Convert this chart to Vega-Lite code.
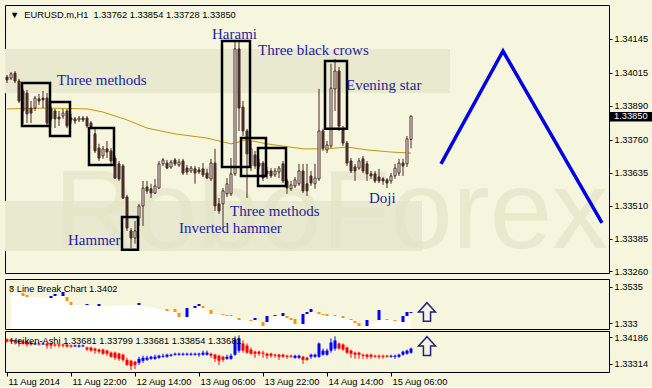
{
"$schema": "https://vega.github.io/schema/vega-lite/v6.json",
"background": "#F6F6DE",
"padding": {"left": 4, "top": 4, "right": 0, "bottom": 0},
"spacing": 0,
"config": {
 "view": {"stroke": "#000000", "strokeWidth": 1, "fill": "#F6F6DE"},
 "axis": {"labelFont": "Liberation Sans", "labelFontSize": 9.3, "labelColor": "#000000", "tickColor": "#000000", "tickSize": 3, "domain": false, "grid": false, "labelPadding": 2, "labelOverlap": false, "labelFlush": false}
},
"datasets": {
 "bands": [
  {"t1": "2014-08-11T05:30", "t2": "2014-08-15T20:45", "p1": 1.34106, "p2": 1.33938},
  {"t1": "2014-08-11T05:30", "t2": "2014-08-15T13:45", "p1": 1.33528, "p2": 1.33338}
 ],
 "mark": [{"t": "2014-08-11T17:45", "p": 1.33258, "label": "RoboForex"}],
 "heads": [
  {"panel": "main", "t": "2014-08-11T06:45", "v": 1.34225, "label": "▼\u00a0\u00a0EURUSD.m,H1\u00a0\u00a01.33762 1.33854 1.33728 1.33850"},
  {"panel": "lb", "t": "2014-08-11T06:30", "v": 1.35066, "label": "3 Line Break Chart 1.3402"},
  {"panel": "ha", "t": "2014-08-11T06:52", "v": 1.33985, "label": "Heiken-Ashi 1.33681 1.33799 1.33681 1.33854 1.33681"}
 ],
 "ma": [
  {"t": "2014-08-11T06:00", "v": 1.33878}, {"t": "2014-08-11T16:00", "v": 1.33881}, {"t": "2014-08-12T02:00", "v": 1.33878},
  {"t": "2014-08-12T06:00", "v": 1.33866}, {"t": "2014-08-12T12:00", "v": 1.33836}, {"t": "2014-08-12T17:00", "v": 1.33805},
  {"t": "2014-08-13T00:00", "v": 1.33783}, {"t": "2014-08-13T08:00", "v": 1.33767}, {"t": "2014-08-13T14:00", "v": 1.33745},
  {"t": "2014-08-13T18:00", "v": 1.3376}, {"t": "2014-08-13T23:00", "v": 1.33745}, {"t": "2014-08-14T08:00", "v": 1.33726},
  {"t": "2014-08-14T14:00", "v": 1.33726}, {"t": "2014-08-14T19:00", "v": 1.33733}, {"t": "2014-08-15T00:00", "v": 1.33722},
  {"t": "2014-08-15T06:00", "v": 1.33714}, {"t": "2014-08-15T11:00", "v": 1.3371}
 ],
 "candles": [
  {"t":"2014-08-11T06:00","o":1.33999,"h":1.34007,"l":1.33976,"c":1.33988},
  {"t":"2014-08-11T07:00","o":1.33995,"h":1.34018,"l":1.33988,"c":1.34011},
  {"t":"2014-08-11T08:00","o":1.34014,"h":1.34022,"l":1.33976,"c":1.33984},
  {"t":"2014-08-11T09:00","o":1.33984,"h":1.33992,"l":1.339,"c":1.33908},
  {"t":"2014-08-11T10:00","o":1.33946,"h":1.33954,"l":1.33821,"c":1.3387},
  {"t":"2014-08-11T11:00","o":1.33938,"h":1.3395,"l":1.33824,"c":1.33859},
  {"t":"2014-08-11T12:00","o":1.33881,"h":1.33908,"l":1.33824,"c":1.33862},
  {"t":"2014-08-11T13:00","o":1.33881,"h":1.33927,"l":1.3387,"c":1.33919},
  {"t":"2014-08-11T14:00","o":1.33916,"h":1.33935,"l":1.33893,"c":1.33908},
  {"t":"2014-08-11T15:00","o":1.33919,"h":1.33946,"l":1.33881,"c":1.33912},
  {"t":"2014-08-11T16:00","o":1.33919,"h":1.33938,"l":1.33813,"c":1.33824},
  {"t":"2014-08-11T17:00","o":1.33878,"h":1.33885,"l":1.33832,"c":1.3384},
  {"t":"2014-08-11T18:00","o":1.3387,"h":1.33878,"l":1.33805,"c":1.3384},
  {"t":"2014-08-11T19:00","o":1.33847,"h":1.3387,"l":1.33813,"c":1.3384},
  {"t":"2014-08-11T20:00","o":1.33851,"h":1.33878,"l":1.3384,"c":1.33862},
  {"t":"2014-08-11T21:00","o":1.3387,"h":1.33878,"l":1.33805,"c":1.33813},
  {"t":"2014-08-11T22:00","o":1.33843,"h":1.33859,"l":1.33821,"c":1.33836},
  {"t":"2014-08-11T23:00","o":1.3384,"h":1.33847,"l":1.33821,"c":1.33832},
  {"t":"2014-08-12T00:00","o":1.33836,"h":1.33851,"l":1.33828,"c":1.33843},
  {"t":"2014-08-12T01:00","o":1.33843,"h":1.33851,"l":1.33828,"c":1.33836},
  {"t":"2014-08-12T02:00","o":1.33843,"h":1.33851,"l":1.33805,"c":1.33813},
  {"t":"2014-08-12T03:00","o":1.33824,"h":1.33832,"l":1.33802,"c":1.33809},
  {"t":"2014-08-12T04:00","o":1.33783,"h":1.33802,"l":1.3371,"c":1.33718},
  {"t":"2014-08-12T05:00","o":1.33729,"h":1.33745,"l":1.3368,"c":1.33691},
  {"t":"2014-08-12T06:00","o":1.33699,"h":1.33737,"l":1.33688,"c":1.33726},
  {"t":"2014-08-12T07:00","o":1.33726,"h":1.33756,"l":1.33691,"c":1.33714},
  {"t":"2014-08-12T08:00","o":1.33718,"h":1.33729,"l":1.33669,"c":1.3368},
  {"t":"2014-08-12T09:00","o":1.33691,"h":1.33699,"l":1.33612,"c":1.33615},
  {"t":"2014-08-12T10:00","o":1.33669,"h":1.3368,"l":1.33604,"c":1.33612},
  {"t":"2014-08-12T11:00","o":1.33661,"h":1.33669,"l":1.33536,"c":1.33539},
  {"t":"2014-08-12T12:00","o":1.33543,"h":1.33551,"l":1.33414,"c":1.33425},
  {"t":"2014-08-12T13:00","o":1.33414,"h":1.33425,"l":1.33349,"c":1.33387},
  {"t":"2014-08-12T14:00","o":1.33387,"h":1.33452,"l":1.33365,"c":1.33414},
  {"t":"2014-08-12T15:00","o":1.33463,"h":1.33517,"l":1.33433,"c":1.33509},
  {"t":"2014-08-12T16:00","o":1.33509,"h":1.33604,"l":1.33433,"c":1.33577},
  {"t":"2014-08-12T17:00","o":1.33581,"h":1.33604,"l":1.33555,"c":1.33566},
  {"t":"2014-08-12T18:00","o":1.33574,"h":1.33593,"l":1.33539,"c":1.33558},
  {"t":"2014-08-12T19:00","o":1.33558,"h":1.33612,"l":1.33555,"c":1.33585},
  {"t":"2014-08-12T20:00","o":1.33577,"h":1.3368,"l":1.33574,"c":1.33669},
  {"t":"2014-08-12T21:00","o":1.33669,"h":1.33691,"l":1.33661,"c":1.33684},
  {"t":"2014-08-12T22:00","o":1.33672,"h":1.33684,"l":1.3365,"c":1.33653},
  {"t":"2014-08-12T23:00","o":1.33657,"h":1.33684,"l":1.3365,"c":1.33676},
  {"t":"2014-08-13T00:00","o":1.33684,"h":1.33691,"l":1.33661,"c":1.33669},
  {"t":"2014-08-13T01:00","o":1.33665,"h":1.33688,"l":1.33657,"c":1.33676},
  {"t":"2014-08-13T02:00","o":1.3368,"h":1.33688,"l":1.33627,"c":1.33634},
  {"t":"2014-08-13T03:00","o":1.33653,"h":1.33665,"l":1.33627,"c":1.33638},
  {"t":"2014-08-13T04:00","o":1.33642,"h":1.33661,"l":1.33634,"c":1.33653},
  {"t":"2014-08-13T05:00","o":1.3365,"h":1.33661,"l":1.33593,"c":1.33634},
  {"t":"2014-08-13T06:00","o":1.33646,"h":1.33657,"l":1.33631,"c":1.33638},
  {"t":"2014-08-13T07:00","o":1.3365,"h":1.33672,"l":1.33619,"c":1.33627},
  {"t":"2014-08-13T08:00","o":1.33634,"h":1.3365,"l":1.33612,"c":1.33615},
  {"t":"2014-08-13T09:00","o":1.33612,"h":1.33688,"l":1.33604,"c":1.33672},
  {"t":"2014-08-13T10:00","o":1.33672,"h":1.33726,"l":1.3349,"c":1.33509},
  {"t":"2014-08-13T11:00","o":1.33517,"h":1.33539,"l":1.33479,"c":1.3349},
  {"t":"2014-08-13T12:00","o":1.33517,"h":1.33577,"l":1.33425,"c":1.33566},
  {"t":"2014-08-13T13:00","o":1.33555,"h":1.33615,"l":1.33543,"c":1.33593},
  {"t":"2014-08-13T14:00","o":1.33555,"h":1.33691,"l":1.33547,"c":1.33631},
  {"t":"2014-08-13T15:00","o":1.33631,"h":1.34136,"l":1.33623,"c":1.34106},
  {"t":"2014-08-13T16:00","o":1.34106,"h":1.34136,"l":1.33794,"c":1.33881},
  {"t":"2014-08-13T17:00","o":1.33885,"h":1.33908,"l":1.33775,"c":1.33794},
  {"t":"2014-08-13T18:00","o":1.33794,"h":1.33802,"l":1.33539,"c":1.33707},
  {"t":"2014-08-13T19:00","o":1.33661,"h":1.33756,"l":1.33642,"c":1.33726},
  {"t":"2014-08-13T20:00","o":1.33703,"h":1.33718,"l":1.3365,"c":1.33661},
  {"t":"2014-08-13T21:00","o":1.33672,"h":1.33688,"l":1.3365,"c":1.33661},
  {"t":"2014-08-13T22:00","o":1.33672,"h":1.3368,"l":1.33604,"c":1.33615},
  {"t":"2014-08-13T23:00","o":1.33642,"h":1.33657,"l":1.33612,"c":1.33631},
  {"t":"2014-08-14T00:00","o":1.33642,"h":1.33653,"l":1.33615,"c":1.33623},
  {"t":"2014-08-14T01:00","o":1.33627,"h":1.33653,"l":1.33619,"c":1.33642},
  {"t":"2014-08-14T02:00","o":1.33638,"h":1.33661,"l":1.33615,"c":1.33653},
  {"t":"2014-08-14T03:00","o":1.33669,"h":1.3368,"l":1.33596,"c":1.33604},
  {"t":"2014-08-14T04:00","o":1.33604,"h":1.33612,"l":1.33555,"c":1.33577},
  {"t":"2014-08-14T05:00","o":1.33574,"h":1.33604,"l":1.33566,"c":1.33589},
  {"t":"2014-08-14T06:00","o":1.33585,"h":1.33619,"l":1.33577,"c":1.33608},
  {"t":"2014-08-14T07:00","o":1.33593,"h":1.33669,"l":1.33585,"c":1.33642},
  {"t":"2014-08-14T08:00","o":1.33642,"h":1.33669,"l":1.33558,"c":1.33566},
  {"t":"2014-08-14T09:00","o":1.33593,"h":1.33669,"l":1.33547,"c":1.33566},
  {"t":"2014-08-14T10:00","o":1.33623,"h":1.33642,"l":1.33585,"c":1.33596},
  {"t":"2014-08-14T11:00","o":1.33593,"h":1.33669,"l":1.33574,"c":1.33615},
  {"t":"2014-08-14T12:00","o":1.33612,"h":1.33954,"l":1.33604,"c":1.33794},
  {"t":"2014-08-14T13:00","o":1.33794,"h":1.33802,"l":1.33718,"c":1.33729},
  {"t":"2014-08-14T14:00","o":1.33722,"h":1.33756,"l":1.3371,"c":1.33741},
  {"t":"2014-08-14T15:00","o":1.33737,"h":1.34049,"l":1.33729,"c":1.33957},
  {"t":"2014-08-14T16:00","o":1.33954,"h":1.34068,"l":1.3387,"c":1.34022},
  {"t":"2014-08-14T17:00","o":1.34022,"h":1.34037,"l":1.33794,"c":1.33813},
  {"t":"2014-08-14T18:00","o":1.33802,"h":1.33813,"l":1.33737,"c":1.33748},
  {"t":"2014-08-14T19:00","o":1.33748,"h":1.33756,"l":1.33661,"c":1.33672},
  {"t":"2014-08-14T20:00","o":1.3368,"h":1.33691,"l":1.33634,"c":1.33642},
  {"t":"2014-08-14T21:00","o":1.33657,"h":1.33669,"l":1.33604,"c":1.33642},
  {"t":"2014-08-14T22:00","o":1.33653,"h":1.33691,"l":1.33646,"c":1.3368},
  {"t":"2014-08-14T23:00","o":1.33688,"h":1.33699,"l":1.33634,"c":1.33642},
  {"t":"2014-08-15T00:00","o":1.33669,"h":1.3368,"l":1.33604,"c":1.33631},
  {"t":"2014-08-15T01:00","o":1.33631,"h":1.33642,"l":1.33612,"c":1.33623},
  {"t":"2014-08-15T02:00","o":1.33631,"h":1.33642,"l":1.33596,"c":1.33604},
  {"t":"2014-08-15T03:00","o":1.33619,"h":1.3365,"l":1.33596,"c":1.33604},
  {"t":"2014-08-15T04:00","o":1.33612,"h":1.33619,"l":1.33589,"c":1.33604},
  {"t":"2014-08-15T05:00","o":1.33608,"h":1.33615,"l":1.33577,"c":1.33596},
  {"t":"2014-08-15T06:00","o":1.33604,"h":1.33634,"l":1.33593,"c":1.33623},
  {"t":"2014-08-15T07:00","o":1.33623,"h":1.33669,"l":1.33612,"c":1.33653},
  {"t":"2014-08-15T08:00","o":1.33634,"h":1.33688,"l":1.33623,"c":1.33672},
  {"t":"2014-08-15T09:00","o":1.33672,"h":1.33688,"l":1.33623,"c":1.33661},
  {"t":"2014-08-15T10:00","o":1.33669,"h":1.33775,"l":1.33657,"c":1.33764},
  {"t":"2014-08-15T11:00","o":1.33762,"h":1.33854,"l":1.33728,"c":1.3385}
 ],
 "boxes": [
  {"t1": "2014-08-11T09:45", "t2": "2014-08-11T16:45", "p1": 1.33976, "p2": 1.33813},
  {"t1": "2014-08-11T16:45", "t2": "2014-08-11T21:45", "p1": 1.33904, "p2": 1.33775},
  {"t1": "2014-08-12T02:30", "t2": "2014-08-12T08:45", "p1": 1.33805, "p2": 1.33665},
  {"t1": "2014-08-12T10:45", "t2": "2014-08-12T14:45", "p1": 1.33467, "p2": 1.33342},
  {"t1": "2014-08-13T11:45", "t2": "2014-08-13T18:45", "p1": 1.34136, "p2": 1.33657},
  {"t1": "2014-08-13T16:30", "t2": "2014-08-13T22:45", "p1": 1.33767, "p2": 1.33623},
  {"t1": "2014-08-13T20:45", "t2": "2014-08-14T03:45", "p1": 1.33729, "p2": 1.33585},
  {"t1": "2014-08-14T13:30", "t2": "2014-08-14T19:00", "p1": 1.3406, "p2": 1.33802}
 ],
 "notes": [
  {"t": "2014-08-11T18:30", "p": 1.33988, "label": "Three methods"},
  {"t": "2014-08-13T09:15", "p": 1.34163, "label": "Harami"},
  {"t": "2014-08-13T20:45", "p": 1.34102, "label": "Three black crows"},
  {"t": "2014-08-14T18:45", "p": 1.33969, "label": "Evening star"},
  {"t": "2014-08-11T21:15", "p": 1.3338, "label": "Hammer"},
  {"t": "2014-08-13T01:00", "p": 1.33425, "label": "Inverted hammer"},
  {"t": "2014-08-13T13:45", "p": 1.3349, "label": "Three methods"},
  {"t": "2014-08-15T00:30", "p": 1.33539, "label": "Doji"}
 ],
 "zig": [
  {"t": "2014-08-15T18:30", "p": 1.33669},
  {"t": "2014-08-16T10:00", "p": 1.34098},
  {"t": "2014-08-17T10:45", "p": 1.33445}
 ],
 "tag": [{"t1": "2014-08-17T12:45", "t2": "2014-08-17T23:30", "p1": 1.33866, "p2": 1.3383, "tt": "2014-08-17T13:45", "p": 1.3385, "label": "1.33850"}],
 "lb": [
  {"t":"2014-08-11T07:00","hi":1.35407,"lo":1.35179,"d":"dn"},
  {"t":"2014-08-11T10:00","hi":1.35009,"lo":1.34838,"d":"dn"},
  {"t":"2014-08-11T11:00","hi":1.34895,"lo":1.34781,"d":"dn"},
  {"t":"2014-08-11T17:00","hi":1.34838,"lo":1.34724,"d":"up"},
  {"t":"2014-08-11T18:00","hi":1.34952,"lo":1.34838,"d":"up"},
  {"t":"2014-08-11T20:00","hi":1.35066,"lo":1.34838,"d":"up"},
  {"t":"2014-08-11T21:00","hi":1.34781,"lo":1.34553,"d":"dn"},
  {"t":"2014-08-11T22:00","hi":1.34497,"lo":1.34326,"d":"dn"},
  {"t":"2014-08-12T02:00","hi":1.34383,"lo":1.34326,"d":"up"},
  {"t":"2014-08-12T05:00","hi":1.34383,"lo":1.34269,"d":"up"},
  {"t":"2014-08-12T15:00","hi":1.3444,"lo":1.34326,"d":"up"},
  {"t":"2014-08-12T22:00","hi":1.34098,"lo":1.33984,"d":"dn"},
  {"t":"2014-08-13T00:00","hi":1.34098,"lo":1.33928,"d":"dn"},
  {"t":"2014-08-13T01:00","hi":1.33871,"lo":1.33643,"d":"dn"},
  {"t":"2014-08-13T03:00","hi":1.34155,"lo":1.33643,"d":"up"},
  {"t":"2014-08-13T05:00","hi":1.34269,"lo":1.34155,"d":"up"},
  {"t":"2014-08-13T06:00","hi":1.34383,"lo":1.34269,"d":"up"},
  {"t":"2014-08-13T07:00","hi":1.34269,"lo":1.34155,"d":"dn"},
  {"t":"2014-08-13T09:00","hi":1.34041,"lo":1.33814,"d":"dn"},
  {"t":"2014-08-13T12:00","hi":1.33814,"lo":1.33757,"d":"dn"},
  {"t":"2014-08-13T13:00","hi":1.33757,"lo":1.337,"d":"dn"},
  {"t":"2014-08-13T14:00","hi":1.33757,"lo":1.337,"d":"dn"},
  {"t":"2014-08-13T16:00","hi":1.33586,"lo":1.33472,"d":"dn"},
  {"t":"2014-08-13T19:00","hi":1.33472,"lo":1.33415,"d":"dn"},
  {"t":"2014-08-13T20:00","hi":1.33586,"lo":1.33472,"d":"up"},
  {"t":"2014-08-13T22:00","hi":1.33359,"lo":1.33131,"d":"dn"},
  {"t":"2014-08-13T23:00","hi":1.337,"lo":1.33359,"d":"up"},
  {"t":"2014-08-14T01:00","hi":1.33757,"lo":1.337,"d":"up"},
  {"t":"2014-08-14T03:00","hi":1.33871,"lo":1.337,"d":"up"},
  {"t":"2014-08-14T04:00","hi":1.337,"lo":1.33586,"d":"dn"},
  {"t":"2014-08-14T05:00","hi":1.33586,"lo":1.33472,"d":"dn"},
  {"t":"2014-08-14T06:00","hi":1.33529,"lo":1.33245,"d":"dn"},
  {"t":"2014-08-14T08:00","hi":1.33814,"lo":1.33245,"d":"up"},
  {"t":"2014-08-14T09:00","hi":1.33928,"lo":1.33814,"d":"up"},
  {"t":"2014-08-14T10:00","hi":1.34098,"lo":1.33928,"d":"up"},
  {"t":"2014-08-14T12:00","hi":1.33928,"lo":1.33814,"d":"dn"},
  {"t":"2014-08-14T13:00","hi":1.33814,"lo":1.33757,"d":"dn"},
  {"t":"2014-08-14T14:00","hi":1.33814,"lo":1.337,"d":"dn"},
  {"t":"2014-08-14T16:00","hi":1.33757,"lo":1.337,"d":"dn"},
  {"t":"2014-08-14T18:00","hi":1.337,"lo":1.33586,"d":"dn"},
  {"t":"2014-08-14T20:00","hi":1.33529,"lo":1.33472,"d":"dn"},
  {"t":"2014-08-14T21:00","hi":1.33415,"lo":1.33302,"d":"dn"},
  {"t":"2014-08-14T22:00","hi":1.33302,"lo":1.33131,"d":"dn"},
  {"t":"2014-08-15T00:00","hi":1.33472,"lo":1.33131,"d":"up"},
  {"t":"2014-08-15T03:00","hi":1.34041,"lo":1.33472,"d":"up"},
  {"t":"2014-08-15T05:00","hi":1.33529,"lo":1.33472,"d":"dn"},
  {"t":"2014-08-15T07:00","hi":1.33472,"lo":1.33415,"d":"dn"},
  {"t":"2014-08-15T09:00","hi":1.337,"lo":1.33359,"d":"up"},
  {"t":"2014-08-15T10:00","hi":1.33928,"lo":1.337,"d":"up"},
  {"t":"2014-08-15T11:00","hi":1.33928,"lo":1.33871,"d":"up"}
 ],
 "ha": [
  {"t":"2014-08-11T06:00","o":1.34119,"h":1.34153,"l":1.34018,"c":1.34052},
  {"t":"2014-08-11T07:00","o":1.34119,"h":1.34153,"l":1.34018,"c":1.34052},
  {"t":"2014-08-11T08:00","o":1.34085,"h":1.34119,"l":1.33951,"c":1.34018},
  {"t":"2014-08-11T09:00","o":1.34085,"h":1.34119,"l":1.33884,"c":1.34018},
  {"t":"2014-08-11T10:00","o":1.34052,"h":1.34085,"l":1.33951,"c":1.33985},
  {"t":"2014-08-11T11:00","o":1.34052,"h":1.34085,"l":1.33884,"c":1.33951},
  {"t":"2014-08-11T12:00","o":1.34018,"h":1.34052,"l":1.33918,"c":1.33951},
  {"t":"2014-08-11T13:00","o":1.33951,"h":1.34018,"l":1.33951,"c":1.33985},
  {"t":"2014-08-11T14:00","o":1.33985,"h":1.34018,"l":1.33918,"c":1.33951},
  {"t":"2014-08-11T15:00","o":1.33951,"h":1.34018,"l":1.33951,"c":1.33985},
  {"t":"2014-08-11T16:00","o":1.33985,"h":1.34018,"l":1.33817,"c":1.33918},
  {"t":"2014-08-11T17:00","o":1.33985,"h":1.34018,"l":1.33817,"c":1.33918},
  {"t":"2014-08-11T18:00","o":1.33951,"h":1.33985,"l":1.33884,"c":1.33918},
  {"t":"2014-08-11T19:00","o":1.33951,"h":1.33985,"l":1.33851,"c":1.33918},
  {"t":"2014-08-11T20:00","o":1.33951,"h":1.33985,"l":1.33851,"c":1.33918},
  {"t":"2014-08-11T21:00","o":1.33951,"h":1.33985,"l":1.33851,"c":1.33884},
  {"t":"2014-08-11T22:00","o":1.33918,"h":1.33951,"l":1.33851,"c":1.33884},
  {"t":"2014-08-11T23:00","o":1.33884,"h":1.33951,"l":1.33884,"c":1.33918},
  {"t":"2014-08-12T00:00","o":1.33884,"h":1.33951,"l":1.33851,"c":1.33918},
  {"t":"2014-08-12T01:00","o":1.33884,"h":1.33951,"l":1.33884,"c":1.33918},
  {"t":"2014-08-12T02:00","o":1.33851,"h":1.33884,"l":1.3375,"c":1.33784},
  {"t":"2014-08-12T03:00","o":1.33851,"h":1.33884,"l":1.33716,"c":1.3375},
  {"t":"2014-08-12T04:00","o":1.33817,"h":1.33851,"l":1.33649,"c":1.3375},
  {"t":"2014-08-12T05:00","o":1.33784,"h":1.33817,"l":1.33649,"c":1.33716},
  {"t":"2014-08-12T06:00","o":1.33784,"h":1.33817,"l":1.33616,"c":1.33649},
  {"t":"2014-08-12T07:00","o":1.3375,"h":1.33784,"l":1.33582,"c":1.33649},
  {"t":"2014-08-12T08:00","o":1.33683,"h":1.33716,"l":1.33515,"c":1.33549},
  {"t":"2014-08-12T09:00","o":1.33683,"h":1.33716,"l":1.33448,"c":1.33515},
  {"t":"2014-08-12T10:00","o":1.33649,"h":1.33683,"l":1.33415,"c":1.33482},
  {"t":"2014-08-12T11:00","o":1.33616,"h":1.33649,"l":1.33381,"c":1.33448},
  {"t":"2014-08-12T12:00","o":1.33448,"h":1.33515,"l":1.33247,"c":1.33281},
  {"t":"2014-08-12T13:00","o":1.33415,"h":1.33448,"l":1.33113,"c":1.33247},
  {"t":"2014-08-12T14:00","o":1.33381,"h":1.33415,"l":1.33146,"c":1.33281},
  {"t":"2014-08-12T15:00","o":1.33348,"h":1.33549,"l":1.33281,"c":1.33482},
  {"t":"2014-08-12T16:00","o":1.33415,"h":1.33582,"l":1.33348,"c":1.33515},
  {"t":"2014-08-12T17:00","o":1.33448,"h":1.33582,"l":1.33415,"c":1.33515},
  {"t":"2014-08-12T18:00","o":1.33482,"h":1.33582,"l":1.33448,"c":1.33549},
  {"t":"2014-08-12T19:00","o":1.33482,"h":1.33616,"l":1.33448,"c":1.33549},
  {"t":"2014-08-12T20:00","o":1.33515,"h":1.33616,"l":1.33482,"c":1.33582},
  {"t":"2014-08-12T21:00","o":1.33549,"h":1.33649,"l":1.33515,"c":1.33582},
  {"t":"2014-08-12T22:00","o":1.33549,"h":1.33649,"l":1.33515,"c":1.33616},
  {"t":"2014-08-12T23:00","o":1.33582,"h":1.33649,"l":1.33549,"c":1.33616},
  {"t":"2014-08-13T00:00","o":1.33616,"h":1.33683,"l":1.33582,"c":1.33649},
  {"t":"2014-08-13T01:00","o":1.33616,"h":1.33683,"l":1.33582,"c":1.33649},
  {"t":"2014-08-13T02:00","o":1.33616,"h":1.33683,"l":1.33582,"c":1.33649},
  {"t":"2014-08-13T03:00","o":1.33616,"h":1.33683,"l":1.33582,"c":1.33649},
  {"t":"2014-08-13T04:00","o":1.33616,"h":1.33683,"l":1.33582,"c":1.33649},
  {"t":"2014-08-13T05:00","o":1.33616,"h":1.33683,"l":1.33582,"c":1.33649},
  {"t":"2014-08-13T06:00","o":1.33616,"h":1.33683,"l":1.33549,"c":1.33649},
  {"t":"2014-08-13T07:00","o":1.33616,"h":1.3375,"l":1.33582,"c":1.33683},
  {"t":"2014-08-13T08:00","o":1.33616,"h":1.3375,"l":1.33582,"c":1.33683},
  {"t":"2014-08-13T09:00","o":1.33649,"h":1.33683,"l":1.33515,"c":1.33582},
  {"t":"2014-08-13T10:00","o":1.33616,"h":1.33649,"l":1.33381,"c":1.33482},
  {"t":"2014-08-13T11:00","o":1.33582,"h":1.33616,"l":1.33281,"c":1.33415},
  {"t":"2014-08-13T12:00","o":1.33549,"h":1.33582,"l":1.33381,"c":1.33448},
  {"t":"2014-08-13T13:00","o":1.33482,"h":1.33616,"l":1.33448,"c":1.33549},
  {"t":"2014-08-13T14:00","o":1.33482,"h":1.33649,"l":1.33448,"c":1.33582},
  {"t":"2014-08-13T15:00","o":1.33616,"h":1.3422,"l":1.33582,"c":1.34119},
  {"t":"2014-08-13T16:00","o":1.3375,"h":1.34253,"l":1.33683,"c":1.34153},
  {"t":"2014-08-13T17:00","o":1.33985,"h":1.34085,"l":1.33683,"c":1.3375},
  {"t":"2014-08-13T18:00","o":1.33918,"h":1.33985,"l":1.33649,"c":1.33683},
  {"t":"2014-08-13T19:00","o":1.33784,"h":1.33851,"l":1.33616,"c":1.33649},
  {"t":"2014-08-13T20:00","o":1.33716,"h":1.3375,"l":1.33515,"c":1.33649},
  {"t":"2014-08-13T21:00","o":1.33716,"h":1.3375,"l":1.33582,"c":1.33649},
  {"t":"2014-08-13T22:00","o":1.33683,"h":1.3375,"l":1.33515,"c":1.33649},
  {"t":"2014-08-13T23:00","o":1.33649,"h":1.33683,"l":1.33482,"c":1.33582},
  {"t":"2014-08-14T00:00","o":1.33649,"h":1.33683,"l":1.33515,"c":1.33582},
  {"t":"2014-08-14T01:00","o":1.33616,"h":1.33649,"l":1.33515,"c":1.33582},
  {"t":"2014-08-14T02:00","o":1.33616,"h":1.33649,"l":1.33448,"c":1.33549},
  {"t":"2014-08-14T03:00","o":1.33616,"h":1.33649,"l":1.33515,"c":1.33549},
  {"t":"2014-08-14T04:00","o":1.33582,"h":1.33616,"l":1.33482,"c":1.33549},
  {"t":"2014-08-14T05:00","o":1.33582,"h":1.33616,"l":1.33515,"c":1.33549},
  {"t":"2014-08-14T06:00","o":1.33515,"h":1.33616,"l":1.33482,"c":1.33582},
  {"t":"2014-08-14T07:00","o":1.33515,"h":1.33616,"l":1.33482,"c":1.33582},
  {"t":"2014-08-14T08:00","o":1.33549,"h":1.33582,"l":1.33314,"c":1.33448},
  {"t":"2014-08-14T09:00","o":1.33515,"h":1.33549,"l":1.33415,"c":1.33448},
  {"t":"2014-08-14T10:00","o":1.33549,"h":1.33649,"l":1.33482,"c":1.33616},
  {"t":"2014-08-14T11:00","o":1.33549,"h":1.33649,"l":1.33515,"c":1.33616},
  {"t":"2014-08-14T12:00","o":1.33549,"h":1.34018,"l":1.33515,"c":1.33985},
  {"t":"2014-08-14T13:00","o":1.33616,"h":1.33817,"l":1.33582,"c":1.3375},
  {"t":"2014-08-14T14:00","o":1.33616,"h":1.33817,"l":1.33582,"c":1.3375},
  {"t":"2014-08-14T15:00","o":1.3375,"h":1.34153,"l":1.33683,"c":1.34018},
  {"t":"2014-08-14T16:00","o":1.33817,"h":1.3422,"l":1.3375,"c":1.34085},
  {"t":"2014-08-14T17:00","o":1.33985,"h":1.34018,"l":1.33784,"c":1.33817},
  {"t":"2014-08-14T18:00","o":1.33951,"h":1.33985,"l":1.3375,"c":1.33784},
  {"t":"2014-08-14T19:00","o":1.33851,"h":1.33884,"l":1.33649,"c":1.33683},
  {"t":"2014-08-14T20:00","o":1.3375,"h":1.33784,"l":1.33515,"c":1.33649},
  {"t":"2014-08-14T21:00","o":1.33683,"h":1.33716,"l":1.33482,"c":1.33616},
  {"t":"2014-08-14T22:00","o":1.33683,"h":1.33716,"l":1.33482,"c":1.33616},
  {"t":"2014-08-14T23:00","o":1.33616,"h":1.33649,"l":1.33482,"c":1.33582},
  {"t":"2014-08-15T00:00","o":1.33616,"h":1.33649,"l":1.33482,"c":1.33549},
  {"t":"2014-08-15T01:00","o":1.33616,"h":1.33649,"l":1.33482,"c":1.33549},
  {"t":"2014-08-15T02:00","o":1.33582,"h":1.33616,"l":1.33515,"c":1.33549},
  {"t":"2014-08-15T03:00","o":1.33582,"h":1.33616,"l":1.33482,"c":1.33549},
  {"t":"2014-08-15T04:00","o":1.33582,"h":1.33616,"l":1.33482,"c":1.33549},
  {"t":"2014-08-15T05:00","o":1.33582,"h":1.33616,"l":1.33515,"c":1.33549},
  {"t":"2014-08-15T06:00","o":1.33549,"h":1.33616,"l":1.33515,"c":1.33582},
  {"t":"2014-08-15T07:00","o":1.33549,"h":1.33616,"l":1.33482,"c":1.33582},
  {"t":"2014-08-15T08:00","o":1.33549,"h":1.33649,"l":1.33515,"c":1.33616},
  {"t":"2014-08-15T09:00","o":1.33616,"h":1.3375,"l":1.33582,"c":1.33716},
  {"t":"2014-08-15T10:00","o":1.33649,"h":1.33784,"l":1.33616,"c":1.3375},
  {"t":"2014-08-15T11:00","o":1.33683,"h":1.33851,"l":1.33649,"c":1.33817}
 ],
 "arrowMid": [{"t": "2014-08-15T15:00", "v": 1.33928}],
 "arrowHa": [{"t": "2014-08-15T15:00", "v": 1.33901}]
},
"vconcat": [
 {
  "width": 604, "height": 268,
  "layer": [
   {"data": {"name": "bands"}, "mark": {"type": "rect", "color": "#E9E9CF"},
    "encoding": {
     "x": {"field": "t1", "type": "temporal", "scale": {"domain": [{"year": 2014, "month": 8, "date": 11, "hours": 5, "minutes": 30}, {"year": 2014, "month": 8, "date": 17, "hours": 12, "minutes": 30}], "padding": 0}, "axis": null},
     "x2": {"field": "t2"},
     "y": {"field": "p1", "type": "quantitative", "scale": {"domain": [1.33254, 1.34273], "zero": false, "nice": false, "padding": 0}, "axis": {"orient": "right", "values": [1.34145, 1.34015, 1.3389, 1.3376, 1.33635, 1.3351, 1.33385, 1.3326], "tickCount": 20, "format": ".5f", "title": null, "labelOverlap": false, "labelBound": false}},
     "y2": {"field": "p2"}}},
   {"data": {"name": "mark"}, "mark": {"type": "text", "align": "left", "baseline": "bottom", "font": "Liberation Sans", "fontSize": 112, "color": "#E4E4C8", "opacity": 0.7},
    "encoding": {"x": {"field": "t", "type": "temporal"}, "y": {"field": "p", "type": "quantitative"}, "text": {"field": "label"}}},
   {"mark": {"type": "rule", "color": "#ABABAB", "strokeWidth": 1}, "encoding": {"y": {"datum": 1.3385}}},
   {"data": {"name": "ma"}, "mark": {"type": "line", "color": "#C8960A", "strokeWidth": 1},
    "encoding": {"x": {"field": "t", "type": "temporal"}, "y": {"field": "v", "type": "quantitative"}}},
   {"data": {"name": "candles"}, "mark": {"type": "rule", "color": "#4A2A2A", "strokeWidth": 1},
    "encoding": {"x": {"field": "t", "type": "temporal"}, "y": {"field": "l", "type": "quantitative"}, "y2": {"field": "h"}}},
   {"data": {"name": "candles"}, "mark": {"type": "bar", "width": 2, "stroke": "#4A2A2A", "strokeWidth": 1},
    "encoding": {"x": {"field": "t", "type": "temporal"}, "y": {"field": "o", "type": "quantitative"}, "y2": {"field": "c"},
     "fill": {"condition": {"test": "datum.c > datum.o", "value": "#FFFFFF"}, "value": "#4A2A2A"}}},
   {"data": {"name": "boxes"}, "mark": {"type": "rect", "fill": "transparent", "stroke": "#000000", "strokeWidth": 2.5},
    "encoding": {"x": {"field": "t1", "type": "temporal"}, "x2": {"field": "t2"}, "y": {"field": "p1", "type": "quantitative"}, "y2": {"field": "p2"}}},
   {"data": {"name": "notes"}, "mark": {"type": "text", "align": "left", "baseline": "middle", "font": "Liberation Serif", "fontSize": 15, "color": "#1E1E9C"},
    "encoding": {"x": {"field": "t", "type": "temporal"}, "y": {"field": "p", "type": "quantitative"}, "text": {"field": "label"}}},
   {"data": {"name": "zig"}, "mark": {"type": "line", "color": "#0000E6", "strokeWidth": 3.5},
    "encoding": {"x": {"field": "t", "type": "temporal"}, "y": {"field": "p", "type": "quantitative"}}},
   {"data": {"name": "heads"}, "transform": [{"filter": "datum.panel == 'main'"}], "mark": {"type": "text", "align": "left", "baseline": "alphabetic", "font": "Liberation Sans", "fontSize": 9.3, "color": "#000000"},
    "encoding": {"x": {"field": "t", "type": "temporal"}, "y": {"field": "v", "type": "quantitative"}, "text": {"field": "label"}}},
   {"data": {"name": "tag"}, "mark": {"type": "rect", "color": "#000000"},
    "encoding": {"x": {"field": "t1", "type": "temporal"}, "x2": {"field": "t2"}, "y": {"field": "p1", "type": "quantitative"}, "y2": {"field": "p2"}}},
   {"data": {"name": "tag"}, "mark": {"type": "text", "align": "left", "baseline": "middle", "font": "Liberation Sans", "fontSize": 9.3, "color": "#FFFFFF"},
    "encoding": {"x": {"field": "tt", "type": "temporal"}, "y": {"field": "p", "type": "quantitative"}, "text": {"field": "label"}}}
  ]
 },
 {
  "width": 604, "height": 50,
  "layer": [
   {"data": {"name": "lb"}, "mark": {"type": "area", "color": "#FFFFFF"},
    "encoding": {
     "x": {"field": "t", "type": "temporal", "scale": {"domain": [{"year": 2014, "month": 8, "date": 11, "hours": 5, "minutes": 30}, {"year": 2014, "month": 8, "date": 17, "hours": 12, "minutes": 30}], "padding": 0}, "axis": null},
     "y": {"field": "lo", "type": "quantitative", "scale": {"domain": [1.3296, 1.35805], "zero": false, "nice": false, "padding": 0}, "axis": {"orient": "right", "values": [1.3535, 1.333], "format": ".4~f", "title": null, "labelOverlap": false, "labelBound": false}},
     "y2": {"datum": 1.3296}}},
   {"data": {"name": "lb"}, "mark": {"type": "bar", "width": 3},
    "encoding": {"x": {"field": "t", "type": "temporal"}, "y": {"field": "hi", "type": "quantitative"}, "y2": {"field": "lo"},
     "color": {"field": "d", "type": "nominal", "scale": {"domain": ["up", "dn"], "range": ["#0000FF", "#FF9410"]}, "legend": null}}},
   {"data": {"name": "heads"}, "transform": [{"filter": "datum.panel == 'lb'"}], "mark": {"type": "text", "align": "left", "baseline": "alphabetic", "font": "Liberation Sans", "fontSize": 9.3, "color": "#000000"},
    "encoding": {"x": {"field": "t", "type": "temporal"}, "y": {"field": "v", "type": "quantitative"}, "text": {"field": "label"}}},
   {"data": {"name": "arrowMid"}, "mark": {"type": "point", "shape": "M0,-1.1L1,0L0.42,0L0.42,1.1L-0.42,1.1L-0.42,0L-1,0Z", "size": 289, "filled": false, "stroke": "#22227E", "strokeWidth": 1.5, "opacity": 1},
    "encoding": {"x": {"field": "t", "type": "temporal"}, "y": {"field": "v", "type": "quantitative"}}}
  ]
 },
 {
  "width": 604, "height": 41,
  "layer": [
   {"data": {"name": "ha"}, "mark": {"type": "rule", "strokeWidth": 1},
    "encoding": {
     "x": {"field": "t", "type": "temporal", "scale": {"domain": [{"year": 2014, "month": 8, "date": 11, "hours": 5, "minutes": 30}, {"year": 2014, "month": 8, "date": 17, "hours": 12, "minutes": 30}], "padding": 0},
      "axis": {"orient": "bottom", "title": null, "values": [{"year": 2014, "month": 8, "date": 11, "hours": 6}, {"year": 2014, "month": 8, "date": 11, "hours": 22}, {"year": 2014, "month": 8, "date": 12, "hours": 14}, {"year": 2014, "month": 8, "date": 13, "hours": 6}, {"year": 2014, "month": 8, "date": 13, "hours": 22}, {"year": 2014, "month": 8, "date": 14, "hours": 14}, {"year": 2014, "month": 8, "date": 15, "hours": 6}],
       "tickCount": 20,
       "labelExpr": "timeFormat(datum.value, '%d %b %H:%M') == '11 Aug 06:00' ? '11 Aug 2014' : timeFormat(datum.value, '%d %b %H:%M')",
       "labelAlign": "left", "labelBaseline": "top", "labelOffset": 1, "labelPadding": 1, "tickSize": 4, "labelOverlap": false}},
     "y": {"field": "l", "type": "quantitative", "scale": {"domain": [1.33046, 1.34397], "zero": false, "nice": false, "padding": 0}, "axis": {"orient": "right", "values": [1.34186, 1.33314], "format": ".5f", "title": null, "labelOverlap": false, "labelBound": false}},
     "y2": {"field": "h"},
     "color": {"condition": {"test": "datum.c >= datum.o", "value": "#0000FF"}, "value": "#FF0000"}}},
   {"data": {"name": "ha"}, "mark": {"type": "bar", "width": 3},
    "encoding": {"x": {"field": "t", "type": "temporal"}, "y": {"field": "o", "type": "quantitative"}, "y2": {"field": "c"},
     "color": {"condition": {"test": "datum.c >= datum.o", "value": "#0000FF"}, "value": "#FF0000"}}},
   {"data": {"name": "heads"}, "transform": [{"filter": "datum.panel == 'ha'"}], "mark": {"type": "text", "align": "left", "baseline": "alphabetic", "font": "Liberation Sans", "fontSize": 9.3, "color": "#000000"},
    "encoding": {"x": {"field": "t", "type": "temporal"}, "y": {"field": "v", "type": "quantitative"}, "text": {"field": "label"}}},
   {"data": {"name": "arrowHa"}, "mark": {"type": "point", "shape": "M0,-1.1L1,0L0.42,0L0.42,1.1L-0.42,1.1L-0.42,0L-1,0Z", "size": 289, "filled": false, "stroke": "#22227E", "strokeWidth": 1.5, "opacity": 1},
    "encoding": {"x": {"field": "t", "type": "temporal"}, "y": {"field": "v", "type": "quantitative"}}}
  ]
 }
]
}
